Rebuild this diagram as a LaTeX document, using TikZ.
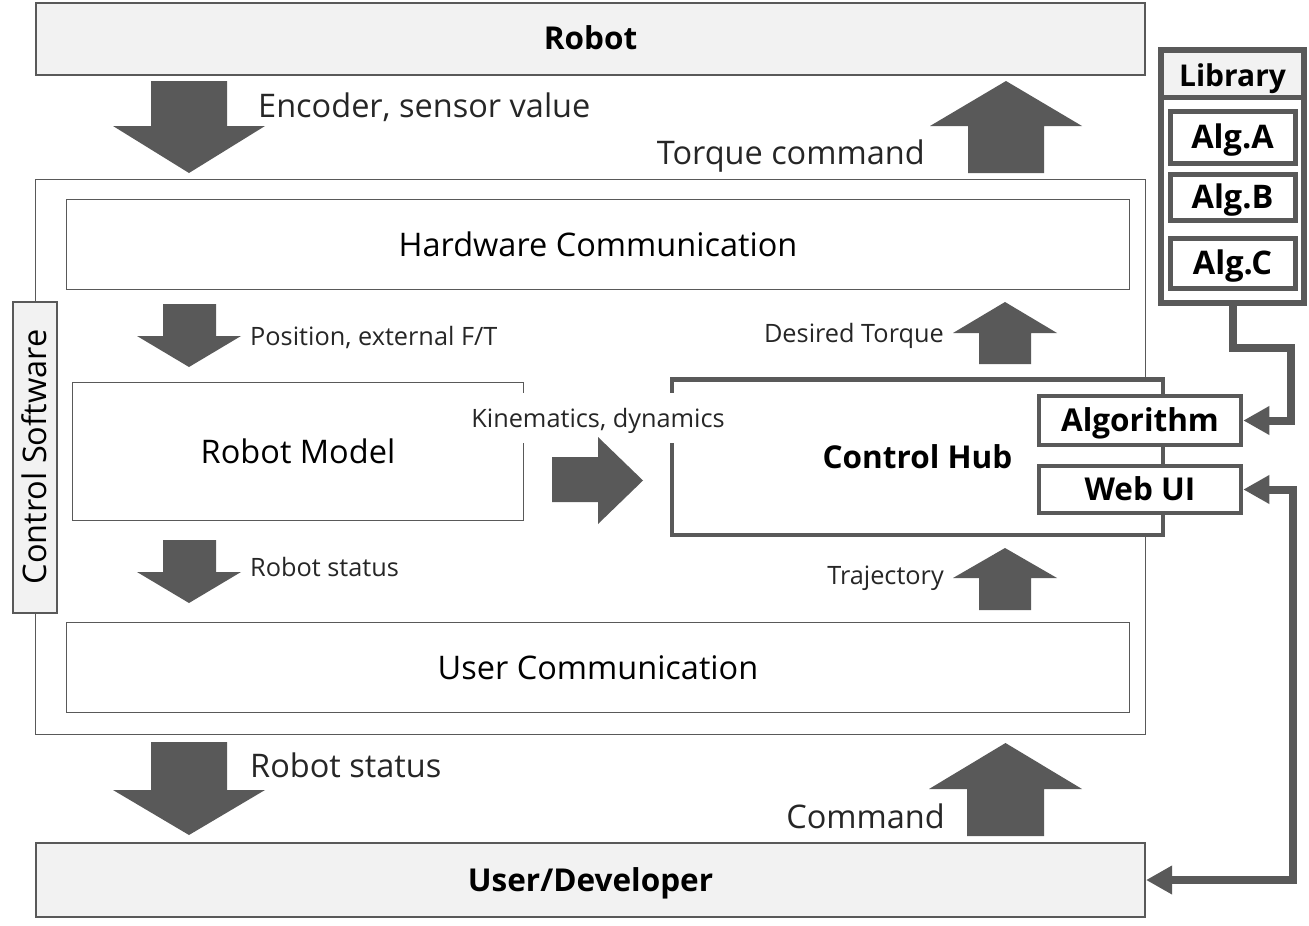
\documentclass[tikz,border=0pt]{standalone}
\usepackage{fontspec}
\setmainfont{Open Sans}
\usetikzlibrary{arrows.meta}
\definecolor{gr}{HTML}{595959}
\definecolor{lf}{HTML}{F2F2F2}
\definecolor{lt}{HTML}{262626}
\newcommand\fsz[1]{\fontsize{#1}{#1}\selectfont}
\begin{document}
\begin{tikzpicture}[x=1pt,y=-1pt,
  box/.style={draw=gr,inner sep=0pt,line width=1.6pt,fill=white},
  thick box/.style={box,line width=4.5pt},
  big/.style={font=\fsz{32.5},text=black,text height=23.2pt,text depth=0pt},
  bigb/.style={font=\bfseries\fsz{31.5},text=black,text height=22.5pt,text depth=0pt},
  libb/.style={font=\bfseries\fsz{30},text=black,text height=21.4pt,text depth=0pt},
  algb/.style={font=\bfseries\fsz{32.5},text=black,text height=23.2pt,text depth=0pt},
  lab/.style={font=\fsz{32.5},text=lt,inner sep=0pt,text height=23.2pt,text depth=0pt},
  slab/.style={font=\fsz{25.3},text=lt,inner sep=0pt,text height=18.1pt,text depth=0pt},
  arr/.style={fill=gr},
  conn/.style={draw=gr,line width=8pt},
  tip/.tip={Triangle[length=26pt,width=27pt]}
]
\useasboundingbox (0,0) rectangle (1309,926);
% outer blocks
\node[box,line width=2pt,fill=lf,minimum width=1109pt,minimum height=72pt,bigb] (robot) at (590.5,38.5) {Robot};
\node[box,line width=2pt,fill=lf,minimum width=1109pt,minimum height=74pt,bigb] (user) at (590.5,880) {User/Developer};
\node[box,minimum width=1110pt,minimum height=555pt] (cs) at (590.5,457) {};
\node[box,minimum width=1063pt,minimum height=90pt,big] (hw) at (598,244.5) {Hardware Communication};
\node[box,minimum width=1063pt,minimum height=90pt,big] (uc) at (598,667.5) {User Communication};
\node[box,line width=2pt,fill=lf,rotate=90,minimum width=311pt,minimum height=44pt,big] (cslab) at (34.5,457) {Control Software};
\node[box,minimum width=451pt,minimum height=138pt,big] (rm) at (298,451.5) {Robot Model};
\node[thick box,minimum width=491pt,minimum height=155.5pt,bigb] (hub) at (917.5,457.25) {Control Hub};
\node[thick box,minimum width=202pt,minimum height=49pt,bigb] (alg) at (1140,420.5) {Algorithm};
\node[thick box,minimum width=202pt,minimum height=47pt,bigb] (web) at (1140,489.5) {Web UI};
% library
\node[box,line width=5.5pt,minimum width=143pt,minimum height=253pt] (lib) at (1232.5,176.5) {};
\node[fill=lf,inner sep=0pt,minimum width=137.5pt,minimum height=46.5pt,libb] (libhead) at (1232.5,76) {Library};
\draw[gr,line width=5pt] (lib.west |- 0,97.5) -- (lib.east |- 0,97.5);
\node[box,line width=5pt,minimum width=125pt,minimum height=52pt,algb] (alga) at (1232.5,137) {Alg.A};
\node[box,line width=5pt,minimum width=125pt,minimum height=46pt,algb] (algb) at (1232.5,197) {Alg.B};
\node[box,line width=5pt,minimum width=125pt,minimum height=50pt,algb] (algc) at (1232.5,263) {Alg.C};
% kinematics label
\node[slab,fill=white,minimum height=50pt] (kin) at (598,418) {Kinematics, dynamics};
% block arrows
\fill[arr] (151,81) -- (227,81) -- (227,126) -- (265,126) -- (189,173) -- (113,126) -- (151,126) -- cycle;
\fill[arr] (151,742) -- (227,742) -- (227,790) -- (265,790) -- (189,835) -- (113,790) -- (151,790) -- cycle;
\fill[arr] (968,173) -- (1044,173) -- (1044,126) -- (1082,126) -- (1006,81) -- (930,126) -- (968,126) -- cycle;
\fill[arr] (967,836) -- (1044,836) -- (1044,789) -- (1082,789) -- (1005.5,743) -- (929,789) -- (967,789) -- cycle;
\fill[arr] (163,304) -- (216,304) -- (216,336) -- (241,336) -- (189,367) -- (137,336) -- (163,336) -- cycle;
\fill[arr] (163,540) -- (216,540) -- (216,572) -- (241,572) -- (189,603) -- (137,572) -- (163,572) -- cycle;
\fill[arr] (979,364) -- (1031,364) -- (1031,333) -- (1057,333) -- (1005,302) -- (953,333) -- (979,333) -- cycle;
\fill[arr] (979,610) -- (1031,610) -- (1031,578) -- (1057,578) -- (1005,548) -- (953,578) -- (979,578) -- cycle;
\fill[arr] (552,457) -- (598,457) -- (598,437) -- (643,480.5) -- (598,524) -- (598,502) -- (552,502) -- cycle;
% arrow labels
\node[lab,anchor=west] (l1) at (258,106) {Encoder, sensor value};
\node[lab,anchor=east] (l2) at (925,153) {Torque command};
\node[slab,anchor=west] (l3) at (250,336) {Position, external F/T};
\node[slab,anchor=west] (l4) at (250,567) {Robot status};
\node[slab,anchor=east] (l5) at (944,333) {Desired Torque};
\node[slab,anchor=east] (l6) at (944,575) {Trajectory};
\node[lab,anchor=west] (l7) at (250,766) {Robot status};
\node[lab,anchor=east] (l8) at (945,817) {Command};
% connectors
\coordinate (k1) at (1291,347.5);
\coordinate (k2) at (1292.5,880);
\draw[conn,-tip] (lib.south) |- (k1) |- (alg.east);
\draw[conn,tip-tip] (web.east) -| (k2) -- (user.east);
\end{tikzpicture}
\end{document}
